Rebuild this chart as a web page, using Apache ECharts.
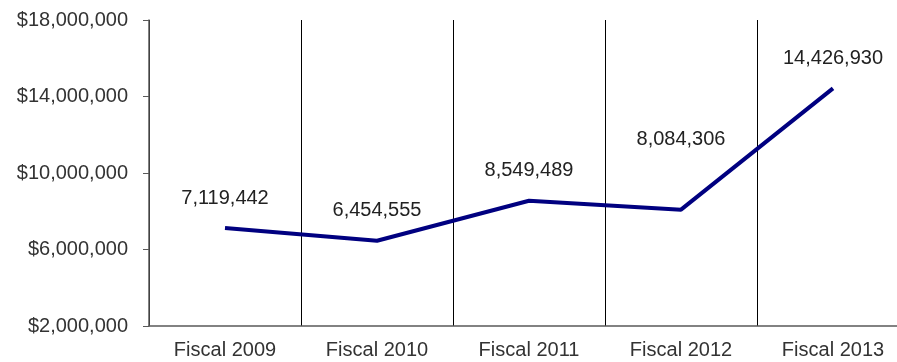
<!DOCTYPE html>
<html>
<head>
<meta charset="utf-8">
<script src="https://cdn.jsdelivr.net/npm/echarts@6/dist/echarts.min.js"></script>
<style>html,body{margin:0;padding:0;background:#fff;overflow:hidden;width:897px;height:362px;}#c{width:930px;height:362px;}</style>
</head>
<body>
<div id="c"></div>
<script>
const categories = ['Fiscal 2009', 'Fiscal 2010', 'Fiscal 2011', 'Fiscal 2012', 'Fiscal 2013'];
const values = [7119442, 6454555, 8549489, 8084306, 14426930];
const yTicks = [2000000, 6000000, 10000000, 14000000, 18000000];

const labelShift = { 3: -40 };
const chart = echarts.init(document.getElementById('c'));
const fmt = v => v.toLocaleString('en-US');
chart.setOption({
  animation: false,
  textStyle: { fontFamily: 'Liberation Sans, Arial, sans-serif' },
  grid: { left: 149, width: 760, top: 20, bottom: 36 },
  xAxis: {
    type: 'category',
    data: categories,
    boundaryGap: true,
    axisLine: { lineStyle: { color: '#595959', width: 1.5 } },
    axisTick: { show: false },
    splitLine: { show: true, lineStyle: { color: '#000', width: 1 } },
    axisLabel: { color: '#333', fontSize: 20, margin: 14, fontFamily: 'Liberation Sans' }
  },
  yAxis: {
    type: 'value',
    min: yTicks[0],
    max: yTicks[yTicks.length - 1],
    splitLine: { show: false },
    axisLine: { show: true, lineStyle: { color: '#595959', width: 1.5 } },
    axisTick: { show: true, length: 6, customValues: yTicks, lineStyle: { color: '#595959' } },
    axisLabel: { customValues: yTicks, color: '#333', fontSize: 20, margin: 21, fontFamily: 'Liberation Sans',
      formatter: v => '$' + fmt(v) }
  },
  series: [{
    type: 'line',
    data: values.map((v, i) => ({
      value: v,
      label: labelShift[i] ? { offset: [0, labelShift[i]] } : undefined
    })),
    symbol: 'circle',
    symbolSize: 0,
    showSymbol: true,
    lineStyle: { color: '#000080', width: 4 },
    itemStyle: { color: '#000080' },
    label: { show: true, position: 'top', distance: 20, color: '#222', fontSize: 20,
      fontFamily: 'Liberation Sans', formatter: p => fmt(p.value) }
  }]
});
</script>
</body>
</html>
